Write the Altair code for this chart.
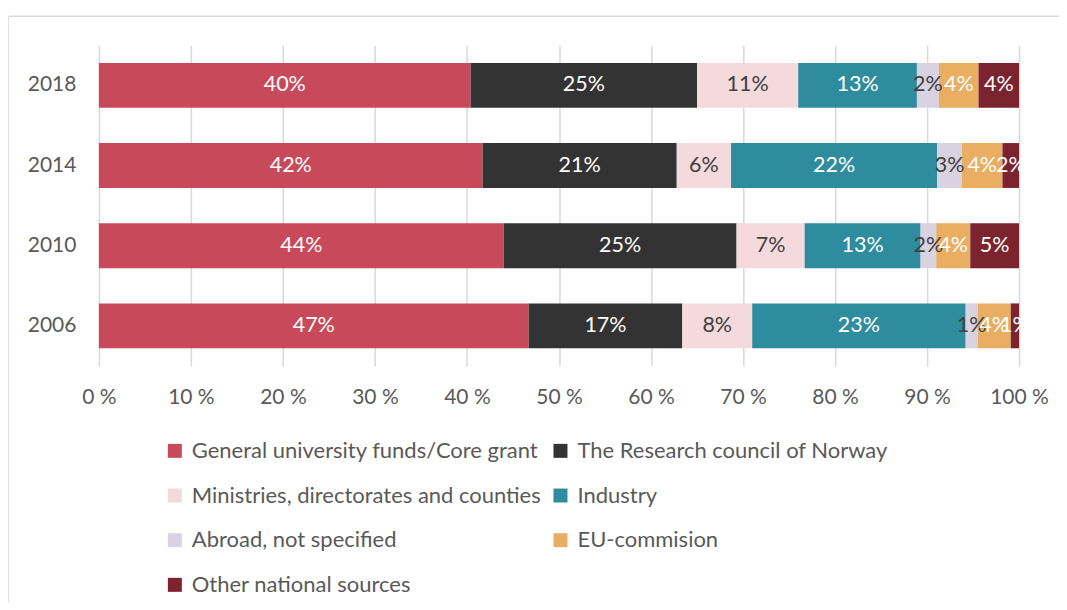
import altair as alt
import pandas as pd

years = ["2018", "2014", "2010", "2006"]
categories = [
    "General university funds/Core grant",
    "The Research council of Norway",
    "Ministries, directorates and counties",
    "Industry",
    "Abroad, not specified",
    "EU-commision",
    "Other national sources",
]
colors = ["#C84A5A", "#333333", "#F4D9DD", "#2E8C9E", "#D9D2E0", "#E9AE62", "#7B232E"]
text_colors = ["#FFFFFF", "#FFFFFF", "#404040", "#FFFFFF", "#404040", "#FFFFFF", "#FFFFFF"]

values = {
    "2018": [40.4, 24.6, 11.0, 12.9, 2.4, 4.3, 4.4],
    "2014": [41.7, 21.1, 5.9, 22.4, 2.7, 4.4, 1.8],
    "2010": [44.0, 25.3, 7.4, 12.6, 1.7, 3.7, 5.3],
    "2006": [46.7, 16.7, 7.6, 23.2, 1.3, 3.6, 0.9],
}

rows = []
for y in years:
    for i, c in enumerate(categories):
        rows.append({"year": y, "cat": c, "v": values[y][i], "ord": i, "tc": text_colors[i]})
df = pd.DataFrame(rows)

FONT = "Lato"
W, H = 921, 321

base = alt.Chart(df).transform_stack(
    stack="v", groupby=["year"], as_=["x0", "x1"], sort=[alt.SortField("ord", order="ascending")]
).transform_calculate(mid="(datum.x0 + datum.x1) / 2", lab="round(datum.v) + '%'")

yenc = alt.Y("year:N", sort=years, title=None,
             scale=alt.Scale(paddingInner=0.44, paddingOuter=0.22),
             axis=alt.Axis(domain=False, ticks=False, labelFontSize=21, labelColor="#595959",
                           labelFont=FONT, labelPadding=23, grid=False))

bars = base.mark_bar().encode(
    x=alt.X("x0:Q", scale=alt.Scale(domain=[0, 100]), title=None,
            axis=alt.Axis(values=list(range(0, 101, 10)), labelExpr="datum.value + ' %'",
                          domain=False, ticks=False, grid=True, gridColor="#D9D9D9", gridWidth=1.5,
                          labelFontSize=21, labelColor="#595959", labelFont=FONT, labelPadding=21,
                          labelFlush=False, labelOverlap=False)),
    x2="x1:Q",
    y=yenc,
    color=alt.Color("cat:N", sort=categories,
                    scale=alt.Scale(domain=categories, range=colors),
                    legend=alt.Legend(title=None, orient="none", legendX=65, legendY=395,
                                      columns=2, direction="horizontal", symbolType="square",
                                      symbolSize=196, symbolStrokeWidth=0, labelFontSize=22,
                                      labelFont=FONT, labelColor="#595959", rowPadding=22.7,
                                      columnPadding=8, labelLimit=500, symbolOffset=0,
                                      labelOffset=6)),
)

texts = base.mark_text(fontSize=21.5, font=FONT).encode(
    x=alt.X("mid:Q"),
    y=alt.Y("year:N", sort=years),
    text="lab:N",
    color=alt.Color("tc:N", scale=None),
)

border = alt.Chart(alt.Data(values=[{}])).mark_rect(
    fill=None, stroke="#D9D9D9", strokeWidth=1.5, clip=False, cornerRadius=3
).encode(x=alt.value(-91), x2=alt.value(W + 60), y=alt.value(-29), y2=alt.value(H + 260))

chart = alt.layer(border, bars, texts).properties(
    width=W, height=H,
    autosize=alt.AutoSizeParams(type="none"),
    padding={"left": 91, "top": 37, "right": 40, "bottom": 236},
).configure_view(stroke=None)

chart.save("out.html", embed_options={"renderer": "svg", "actions": False})
